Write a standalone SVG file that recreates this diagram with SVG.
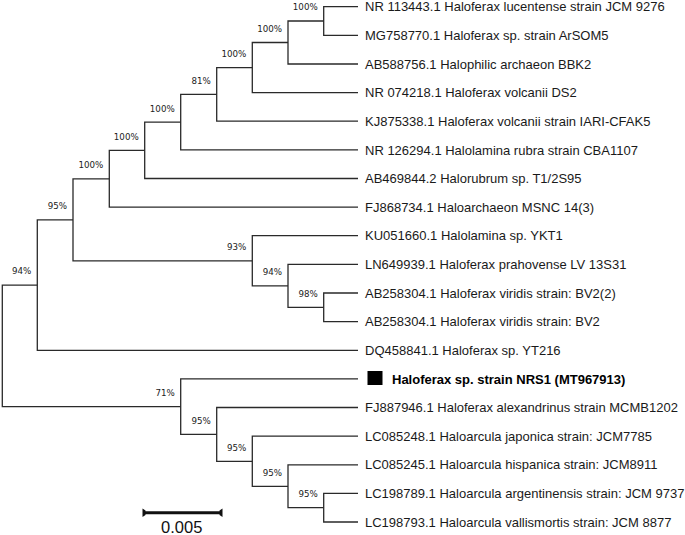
<svg xmlns="http://www.w3.org/2000/svg" width="685" height="535" viewBox="0 0 685 535">
<style>
.br{fill:none;stroke:#2a2a2a;stroke-width:1.3}
.bs{font-family:"DejaVu Sans",Verdana,sans-serif;font-size:8.7px;fill:#222;text-anchor:end}
.lf{font-family:"Liberation Sans",Arial,sans-serif;font-size:13px;fill:#1a1a1a}
.lfb{font-family:"Liberation Sans",Arial,sans-serif;font-size:13px;font-weight:bold;fill:#000}
.sc{font-family:"Liberation Sans",Arial,sans-serif;font-size:16.5px;fill:#111;text-anchor:middle}
</style>
<rect width="685" height="535" fill="#fff"/>
<g id="connectors">
<path class="br" d="M358,6.7 H323.7 V35.3 H358"/>
<path class="br" d="M323.7,21 H288 V64 H358"/>
<path class="br" d="M288,42.5 H252.3 V92.6 H358"/>
<path class="br" d="M252.3,67.6 H216.7 V121.2 H358"/>
<path class="br" d="M216.7,94.4 H180.7 V149.9 H358"/>
<path class="br" d="M180.7,122.2 H144.7 V178.5 H358"/>
<path class="br" d="M144.7,150.4 H109.3 V207.1 H358"/>
<path class="br" d="M109.3,178.8 H73 V260.8 H252.3"/>
<path class="br" d="M358,235.7 H252.3 V285.9 H288"/>
<path class="br" d="M358,264.4 H288 V307.3 H323.7"/>
<path class="br" d="M358,293 H323.7 V321.6 H358"/>
<path class="br" d="M73,219.8 H37.3 V350.3 H358"/>
<path class="br" d="M37.3,285.1 H2.3 V406.7 H180.7"/>
<path class="br" d="M358,378.9 H180.7 V434.4 H216.7"/>
<path class="br" d="M358,407.5 H216.7 V461.3 H252.3"/>
<path class="br" d="M358,436.2 H252.3 V486.3 H288"/>
<path class="br" d="M358,464.8 H288 V507.7 H323.7"/>
<path class="br" d="M358,493.4 H323.7 V522 H358"/>
</g>
<g id="node-J"><text class="bs" x="317.7" y="10.3">100%</text></g>
<g id="node-I"><text class="bs" x="282" y="31.8">100%</text></g>
<g id="node-H"><text class="bs" x="246.3" y="56.9">100%</text></g>
<g id="node-F"><text class="bs" x="210.7" y="83.7">81%</text></g>
<g id="node-E"><text class="bs" x="174.7" y="111.5">100%</text></g>
<g id="node-D"><text class="bs" x="138.7" y="139.7">100%</text></g>
<g id="node-C"><text class="bs" x="103.3" y="168.1">100%</text></g>
<g id="node-B"><text class="bs" x="67" y="209.1">95%</text></g>
<g id="node-A"><text class="bs" x="31.3" y="274.4">94%</text></g>
<g id="node-G"><text class="bs" x="246.3" y="250.1">93%</text></g>
<g id="node-K"><text class="bs" x="282" y="275.2">94%</text></g>
<g id="node-M"><text class="bs" x="317.7" y="296.6">98%</text></g>
<g id="node-L"><text class="bs" x="174.7" y="396">71%</text></g>
<g id="node-N"><text class="bs" x="210.7" y="423.7">95%</text></g>
<g id="node-O"><text class="bs" x="246.3" y="450.6">95%</text></g>
<g id="node-P"><text class="bs" x="282" y="475.6">95%</text></g>
<g id="node-Q"><text class="bs" x="317.7" y="497">95%</text></g>
<g id="leaf-0"><text class="lf" x="365" y="11.3">NR 113443.1 Haloferax lucentense strain JCM 9276</text></g>
<g id="leaf-1"><text class="lf" x="365" y="39.9">MG758770.1 Haloferax sp. strain ArSOM5</text></g>
<g id="leaf-2"><text class="lf" x="365" y="68.6">AB588756.1 Halophilic archaeon BBK2</text></g>
<g id="leaf-3"><text class="lf" x="365" y="97.2">NR 074218.1 Haloferax volcanii DS2</text></g>
<g id="leaf-4"><text class="lf" x="365" y="125.8">KJ875338.1 Haloferax volcanii strain IARI-CFAK5</text></g>
<g id="leaf-5"><text class="lf" x="365" y="154.5">NR 126294.1 Halolamina rubra strain CBA1107</text></g>
<g id="leaf-6"><text class="lf" x="365" y="183.1">AB469844.2 Halorubrum sp. T1/2S95</text></g>
<g id="leaf-7"><text class="lf" x="365" y="211.7">FJ868734.1 Haloarchaeon MSNC 14(3)</text></g>
<g id="leaf-8"><text class="lf" x="365" y="240.3">KU051660.1 Halolamina sp. YKT1</text></g>
<g id="leaf-9"><text class="lf" x="365" y="269">LN649939.1 Haloferax prahovense LV 13S31</text></g>
<g id="leaf-10"><text class="lf" x="365" y="297.6">AB258304.1 Haloferax viridis strain: BV2(2)</text></g>
<g id="leaf-11"><text class="lf" x="365" y="326.2">AB258304.1 Haloferax viridis strain: BV2</text></g>
<g id="leaf-12"><text class="lf" x="365" y="354.9">DQ458841.1 Haloferax sp. YT216</text></g>
<g id="leaf-13"><rect x="367.5" y="371" width="15" height="14" fill="#000"/><text class="lfb" x="392" y="383.5">Haloferax sp. strain NRS1 (MT967913)</text></g>
<g id="leaf-14"><text class="lf" x="365" y="412.1">FJ887946.1 Haloferax alexandrinus strain MCMB1202</text></g>
<g id="leaf-15"><text class="lf" x="365" y="440.8">LC085248.1 Haloarcula japonica strain: JCM7785</text></g>
<g id="leaf-16"><text class="lf" x="365" y="469.4">LC085245.1 Haloarcula hispanica strain: JCM8911</text></g>
<g id="leaf-17"><text class="lf" x="365" y="498">LC198789.1 Haloarcula argentinensis strain: JCM 9737</text></g>
<g id="leaf-18"><text class="lf" x="365" y="526.6">LC198793.1 Haloarcula vallismortis strain: JCM 8877</text></g>
<g id="scale-bar">
<line x1="143" y1="512.7" x2="222" y2="512.7" stroke="#111" stroke-width="3"/>
<path d="M142.5,508.5 L145.5,510.5 V515 L142.5,517 Z" fill="#111"/>
<path d="M222.5,508.5 L219.5,510.5 V515 L222.5,517 Z" fill="#111"/>
<text class="sc" x="181.7" y="533">0.005</text>
</g>
</svg>
